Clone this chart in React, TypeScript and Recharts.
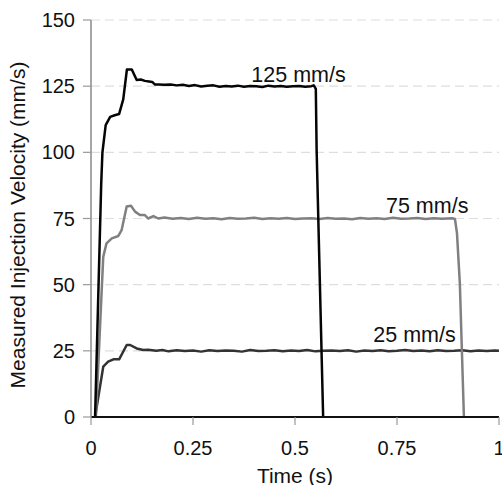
import React from 'react';
import { LineChart, Line, XAxis, YAxis, CartesianGrid, ReferenceDot } from 'recharts';

// ---- data ----
const time125 = [0.010, 0.025, 0.028, 0.036, 0.047, 0.058, 0.069, 0.079, 0.088, 0.100, 0.112, 0.122, 0.132, 0.142, 0.150, 0.157,
  0.165, 0.18, 0.195, 0.21, 0.225, 0.24, 0.255, 0.27, 0.285, 0.30, 0.315, 0.33, 0.345, 0.36, 0.375, 0.39, 0.405, 0.42, 0.435,
  0.45, 0.465, 0.48, 0.495, 0.51, 0.525, 0.54, 0.546, 0.551, 0.553, 0.569];
const vel125 = [0, 88, 100, 110.3, 113.4, 114, 114.5, 120, 131.3, 131.3, 127.3, 127.5, 127, 126.8, 126.6, 125.6,
  125.6, 125.5, 125.6, 125.3, 125.5, 125.1, 125.4, 124.9, 125.2, 125.3, 124.8, 125.1, 124.9, 125.2, 124.8, 125.1, 125.0, 124.7, 125.2,
  124.9, 125.1, 124.8, 125.0, 125.1, 124.8, 125.0, 125.3, 124, 101, 0];

const time75 = [0.012, 0.030, 0.038, 0.051, 0.067, 0.075, 0.0875, 0.098, 0.108, 0.120, 0.132, 0.140, 0.153, 0.165,
  0.18, 0.20, 0.22, 0.24, 0.26, 0.28, 0.30, 0.32, 0.34, 0.36, 0.38, 0.40, 0.42, 0.44, 0.46, 0.48, 0.50, 0.52, 0.54, 0.56,
  0.58, 0.60, 0.62, 0.64, 0.66, 0.68, 0.70, 0.72, 0.74, 0.76, 0.78, 0.80, 0.82, 0.84, 0.86, 0.885, 0.892, 0.897, 0.904, 0.909, 0.914];
const vel75 = [0, 60.5, 65.6, 67.5, 68.4, 70.6, 79.5, 79.8, 77.6, 76.3, 76.3, 75, 75.9, 75.0,
  75.4, 74.9, 75.2, 74.8, 75.3, 74.9, 75.1, 74.7, 75.2, 74.9, 75.0, 75.3, 74.8, 75.1, 74.9, 75.2, 74.8, 75.0, 75.1, 74.8,
  75.2, 74.9, 75.0, 74.7, 75.2, 74.9, 75.1, 74.8, 75.3, 74.9, 75.0, 75.2, 74.8, 75.1, 74.9, 75.1, 74.8, 69.5, 50.6, 25.3, 0];

const time25 = [0.010, 0.030, 0.042, 0.055, 0.069, 0.0875, 0.096, 0.112, 0.128,
  0.14, 0.16, 0.175, 0.19, 0.21, 0.23, 0.25, 0.27, 0.29, 0.31, 0.33, 0.35, 0.37, 0.39, 0.41, 0.43, 0.45, 0.47, 0.49, 0.51,
  0.53, 0.55, 0.57, 0.59, 0.61, 0.63, 0.65, 0.67, 0.69, 0.71, 0.73, 0.75, 0.77, 0.79, 0.81, 0.83, 0.85, 0.87, 0.89, 0.91,
  0.93, 0.95, 0.97, 0.99, 1.0];
const vel25 = [0, 19, 20.9, 21.8, 21.8, 27.2, 27.2, 25.9, 25.3,
  25.4, 25.0, 25.3, 24.8, 25.2, 24.9, 25.1, 24.7, 25.2, 24.9, 25.1, 25.0, 24.7, 25.3, 24.9, 25.0, 25.2, 24.8, 25.1, 24.9,
  25.3, 24.8, 25.0, 25.1, 24.9, 25.2, 24.7, 25.1, 24.9, 25.2, 24.8, 25.0, 25.3, 24.9, 25.1, 24.8, 25.2, 24.9, 25.0, 25.2,
  24.8, 25.1, 24.9, 25.1, 25.0];

const xTicks = [0, 0.25, 0.5, 0.75, 1];
const xTickLabels = ['0', '0.25', '0.5', '0.75', '1'];
const yTicks = [0, 25, 50, 75, 100, 125, 150];

const seriesLabels = ['125 mm/s', '75 mm/s', '25 mm/s'];
const labelTimes = [0.5086, 0.824, 0.793];
const labelVels = [126.7, 77.2, 28.2];

const build = (ts: number[], vs: number[]) => ts.map((t, i) => ({ t, v: vs[i] }));
const data125 = build(time125, vel125);
const data75 = build(time75, vel75);
const data25 = build(time25, vel25);

const FONT = "'Liberation Sans', Arial, sans-serif";

const AnnotLabel = (text: string) => (props: any) => {
  const vb = props.viewBox || {};
  const x = vb.x + (vb.width || 0) / 2;
  const y = vb.y + (vb.height || 0) / 2;
  return (
    <text x={x} y={y} textAnchor="middle" fontSize={21.5} fontFamily={FONT} fill="#111">
      {text}
    </text>
  );
};

const YTitle = () => (
  <text x={24.5} y={225} transform="rotate(-90, 24.5, 225)" textAnchor="middle" fontSize={21} fontFamily={FONT} fill="#111">
    Measured Injection Velocity (mm/s)
  </text>
);

export default function App() {
  return (
    <div style={{ position: 'absolute', left: 0, top: 0, fontFamily: FONT }}>
      <LineChart width={502} height={485} margin={{ top: 20, right: 3, bottom: 0, left: 0 }}>
        <CartesianGrid vertical={false} stroke="#dedede" strokeDasharray="9 5" strokeWidth={1.2} />
        <XAxis
          xAxisId={0}
          type="number"
          dataKey="t"
          domain={[0, 1]}
          ticks={xTicks}
          tickFormatter={(v: number) => xTickLabels[xTicks.indexOf(v)] ?? String(v)}
          height={68}
          tickSize={8}
          tickMargin={16}
          tickLine={{ stroke: '#999', strokeWidth: 1.2 }}
          axisLine={{ stroke: '#111', strokeWidth: 2 }}
          tick={{ fontSize: 20, fill: '#111', fontFamily: FONT }}
          interval={0}
          allowDataOverflow
          label={{ value: 'Time (s)', position: 'insideBottom', offset: 2.5, fontSize: 21, fill: '#111', fontFamily: FONT }}
        />
        <XAxis
          xAxisId="top"
          orientation="top"
          type="number"
          domain={[0, 1]}
          height={0}
          tick={false}
          tickLine={false}
          axisLine={{ stroke: '#888', strokeWidth: 2 }}
        />
        <YAxis
          yAxisId={0}
          type="number"
          domain={[0, 150]}
          ticks={yTicks}
          width={91}
          tickSize={8}
          tickMargin={8}
          tickLine={{ stroke: '#999', strokeWidth: 1.2 }}
          axisLine={{ stroke: '#888', strokeWidth: 1.5 }}
          tick={{ fontSize: 20, fill: '#111', fontFamily: FONT }}
          interval={0}
          allowDataOverflow
          label={{ content: YTitle }}
        />
        <YAxis
          yAxisId="right"
          orientation="right"
          type="number"
          domain={[0, 150]}
          width={0}
          tick={false}
          tickLine={false}
          axisLine={{ stroke: '#222', strokeWidth: 2 }}
        />
        <Line data={data25} dataKey="v" type="linear" stroke="#333333" strokeWidth={2.5} dot={false} isAnimationActive={false} strokeLinejoin="round" />
        <Line data={data75} dataKey="v" type="linear" stroke="#808080" strokeWidth={2.5} dot={false} isAnimationActive={false} strokeLinejoin="round" />
        <Line data={data125} dataKey="v" type="linear" stroke="#050505" strokeWidth={2.5} dot={false} isAnimationActive={false} strokeLinejoin="round" />
        {seriesLabels.map((s, i) => (
          <ReferenceDot key={s} x={labelTimes[i]} y={labelVels[i]} r={0} fill="none" stroke="none" label={{ content: AnnotLabel(s) }} />
        ))}
      </LineChart>
    </div>
  );
}
